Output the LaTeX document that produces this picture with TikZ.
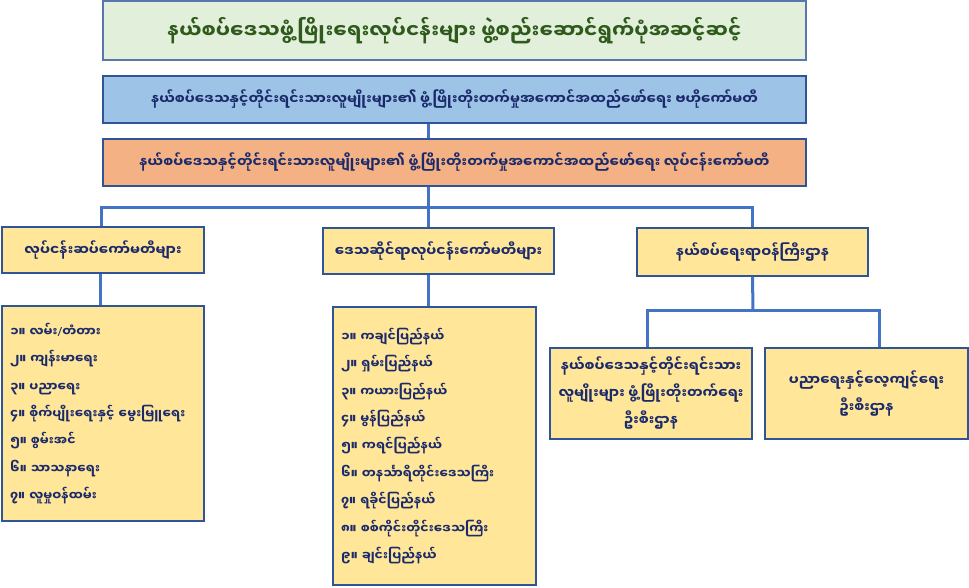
\documentclass[tikz,border=0pt]{standalone}
\usepackage{fontspec}
\newfontfamily\mya[Script=Myanmar]{Noto Sans Myanmar UI}
\newfontfamily\latin{Noto Sans}
\usetikzlibrary{positioning}

\definecolor{titlefill}{HTML}{E2EFDA}
\definecolor{bluefill}{HTML}{9DC3E6}
\definecolor{orangefill}{HTML}{F4B183}
\definecolor{yellowfill}{HTML}{FFE699}
\definecolor{edgeblue}{HTML}{2F5597}
\definecolor{linkblue}{HTML}{4472C4}
\definecolor{navytext}{HTML}{1B2A6B}
\definecolor{greentext}{HTML}{2E5A1C}

\tikzset{
  box/.style={draw=edgeblue, line width=1.5pt, rectangle, inner sep=0pt, text=navytext},
  topbox/.style={box, minimum width=703pt, minimum height=47pt, font=\mya\bfseries\fontsize{14}{16}\selectfont},
  unitbox/.style={box, fill=yellowfill, minimum height=46pt, font=\mya\bfseries\fontsize{14}{16}\selectfont},
  listbox/.style={box, fill=yellowfill, align=left, inner xsep=8pt, font=\mya\bfseries\fontsize{12.6}{27.4}\selectfont},
  deptbox/.style={box, fill=yellowfill, align=center, minimum width=202pt, minimum height=91pt, font=\mya\bfseries\fontsize{14}{27}\selectfont},
  link/.style={draw=linkblue, line width=3pt},
}

\begin{document}
\begin{tikzpicture}[x=1pt,y=-1pt]
\useasboundingbox (0,0) rectangle (969,587);

% Title
\node[box, draw=edgeblue!80, line width=2pt, fill=titlefill, text=greentext, minimum width=703pt, minimum height=59pt,
  font=\mya\bfseries\fontsize{20}{24}\selectfont] (title) at (454.5,30.5)
  {နယ်စပ်ဒေသဖွံ့ဖြိုးရေးလုပ်ငန်းများ ဖွဲ့စည်းဆောင်ရွက်ပုံအဆင့်ဆင့်};

% Central and working committees
\node[topbox, fill=bluefill] (central) at (454.5,99.5)
  {နယ်စပ်ဒေသနှင့်တိုင်းရင်းသားလူမျိုးများ၏ ဖွံ့ဖြိုးတိုးတက်မှုအကောင်အထည်ဖော်ရေး ဗဟိုကော်မတီ};
\node[topbox, fill=orangefill] (working) at (454.5,162.5)
  {နယ်စပ်ဒေသနှင့်တိုင်းရင်းသားလူမျိုးများ၏ ဖွံ့ဖြိုးတိုးတက်မှုအကောင်အထည်ဖော်ရေး လုပ်ငန်းကော်မတီ};

% Second level
\node[unitbox, minimum width=202pt] (sub) at (103,250) {လုပ်ငန်းဆပ်ကော်မတီများ};
\node[unitbox, minimum width=231pt] (regions) at (438.5,251) {ဒေသဆိုင်ရာလုပ်ငန်းကော်မတီများ};
\node[unitbox, minimum width=231pt, minimum height=48pt] (ministry) at (752.5,252) {နယ်စပ်ရေးရာဝန်ကြီးဌာန};

% Sector list
\node[listbox, text width=186pt, minimum height=215pt] (sectors) at (103,413.5)
  {၁။ လမ်း{\latin/}တံတား\\
   ၂။ ကျန်းမာရေး\\
   ၃။ ပညာရေး\\
   ၄။ စိုက်ပျိုးရေးနှင့် မွေးမြူရေး\\
   ၅။ စွမ်းအင်\\
   ၆။ သာသနာရေး\\
   ၇။ လူမှုဝန်ထမ်း};

% State and region list
\node[listbox, text width=187pt, minimum height=278pt] (states) at (434.5,446)
  {၁။ ကချင်ပြည်နယ်\\
   ၂။ ရှမ်းပြည်နယ်\\
   ၃။ ကယားပြည်နယ်\\
   ၄။ မွန်ပြည်နယ်\\
   ၅။ ကရင်ပြည်နယ်\\
   ၆။ တနင်္သာရီတိုင်းဒေသကြီး\\
   ၇။ ရခိုင်ပြည်နယ်\\
   ၈။ စစ်ကိုင်းတိုင်းဒေသကြီး\\
   ၉။ ချင်းပြည်နယ်};

% Departments
\node[deptbox] (dept1) at (651,393.5)
  {နယ်စပ်ဒေသနှင့်တိုင်းရင်းသား\\လူမျိုးများ ဖွံ့ဖြိုးတိုးတက်ရေး\\ဦးစီးဌာန};
\node[deptbox, minimum width=203pt] (dept2) at (866.5,393.5)
  {ပညာရေးနှင့်လေ့ကျင့်ရေး\\ဦးစီးဌာန};

% Connectors
\coordinate (hub) at (428,207);
\coordinate (split) at (753,310);
\draw[link] (central.south -| hub) -- (working.north -| hub);
\draw[link] (working.south -| hub) -- (regions.north -| hub);
\draw[link] ([xshift=-2pt]sub.north) |- (hub) -| (ministry.north);
\draw[link] ([xshift=-3pt]sub.south) -- ([xshift=-3pt]sectors.north);
\draw[link] (regions.south -| hub) -- (states.north -| hub);
\draw[link] (ministry.south) -- (split);
\draw[link] ([xshift=-4pt]dept1.north) |- (split) -| ([xshift=12.5pt]dept2.north);

\end{tikzpicture}
\end{document}
